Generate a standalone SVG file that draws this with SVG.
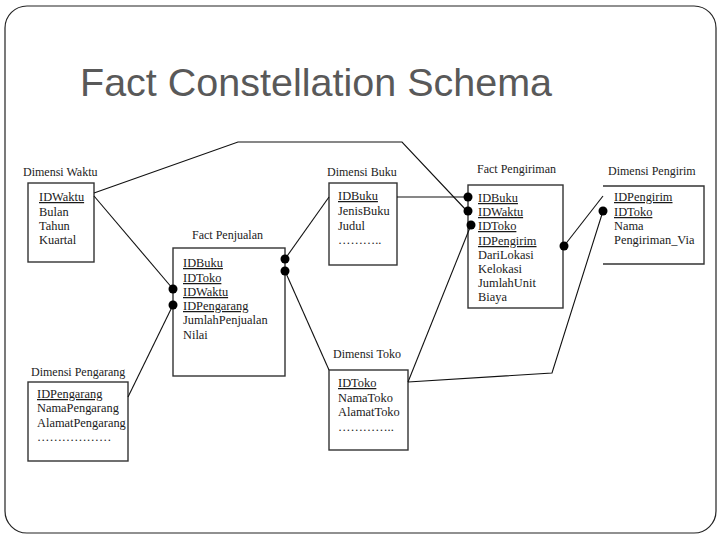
<svg xmlns="http://www.w3.org/2000/svg" width="720" height="540" viewBox="0 0 720 540">
<style>
.frame{fill:#fff;stroke:#222;stroke-width:1.2}
.box{fill:#fff;stroke:#333;stroke-width:1.4}
.lbl{font-family:"Liberation Serif","Times New Roman",serif;font-size:12px;fill:#222}
.it{font-family:"Liberation Serif","Times New Roman",serif;font-size:12.4px;fill:#1a1a1a}
.k{text-decoration:underline}
.ln{fill:none;stroke:#111;stroke-width:1.1}
.dot{fill:#000}
.title{font-family:"Liberation Sans",Arial,sans-serif;font-size:39.5px;fill:#595959}
</style>
<rect width="720" height="540" fill="#fff"/>
<rect class="frame" x="5" y="6" width="711" height="527" rx="22" ry="22"/>
<text class="title" x="80" y="96">Fact Constellation Schema</text>

<g id="dimensi-waktu">
<text class="lbl" x="23" y="176">Dimensi Waktu</text>
<rect class="box" x="28" y="183" width="66" height="79"/>
<text class="it k" x="39" y="201">IDWaktu</text>
<text class="it" x="39" y="216">Bulan</text>
<text class="it" x="39" y="230">Tahun</text>
<text class="it" x="39" y="244">Kuartal</text>
</g>

<g id="fact-penjualan">
<text class="lbl" x="192" y="239">Fact Penjualan</text>
<rect class="box" x="173" y="248" width="112" height="128"/>
<text class="it k" x="183" y="267">IDBuku</text>
<text class="it k" x="183" y="282">IDToko</text>
<text class="it k" x="183" y="296">IDWaktu</text>
<text class="it k" x="183" y="310">IDPengarang</text>
<text class="it" x="183" y="324">JumlahPenjualan</text>
<text class="it" x="183" y="339">Nilai</text>
</g>

<g id="dimensi-buku">
<text class="lbl" x="327" y="176">Dimensi Buku</text>
<rect class="box" x="329" y="183" width="68" height="82"/>
<text class="it k" x="338" y="200">IDBuku</text>
<text class="it" x="338" y="215">JenisBuku</text>
<text class="it" x="338" y="230">Judul</text>
<text class="it" x="338" y="244">………..</text>
</g>

<g id="fact-pengiriman">
<text class="lbl" x="477" y="173">Fact Pengiriman</text>
<rect class="box" x="468" y="185" width="95" height="123"/>
<text class="it k" x="478" y="202">IDBuku</text>
<text class="it k" x="478" y="216">IDWaktu</text>
<text class="it k" x="478" y="230">IDToko</text>
<text class="it k" x="478" y="245">IDPengirim</text>
<text class="it" x="478" y="259">DariLokasi</text>
<text class="it" x="478" y="273">Kelokasi</text>
<text class="it" x="478" y="287">JumlahUnit</text>
<text class="it" x="478" y="301">Biaya</text>
</g>

<g id="dimensi-pengirim">
<text class="lbl" x="608" y="175">Dimensi Pengirim</text>
<path class="box" d="M603,186 H704 V264 H603" fill="none"/>
<text class="it k" x="614" y="201">IDPengirim</text>
<text class="it k" x="614" y="216">IDToko</text>
<text class="it" x="614" y="230">Nama</text>
<text class="it" x="614" y="244">Pengiriman_Via</text>
</g>

<g id="dimensi-pengarang">
<text class="lbl" x="31" y="376">Dimensi Pengarang</text>
<rect class="box" x="28" y="382" width="100" height="79"/>
<text class="it k" x="37" y="398">IDPengarang</text>
<text class="it" x="37" y="412">NamaPengarang</text>
<text class="it" x="37" y="427">AlamatPengarang</text>
<text class="it" x="37" y="441">………………</text>
</g>

<g id="dimensi-toko">
<text class="lbl" x="333" y="358">Dimensi Toko</text>
<rect class="box" x="329" y="370" width="79" height="80"/>
<text class="it k" x="338" y="387">IDToko</text>
<text class="it" x="338" y="402">NamaToko</text>
<text class="it" x="338" y="416">AlamatToko</text>
<text class="it" x="338" y="431">…………..</text>
</g>

<g id="connectors">
<polyline class="ln" points="94,193 238,142 402,142 466,210"/>
<line class="ln" x1="94" y1="196" x2="173" y2="289"/>
<line class="ln" x1="329" y1="197" x2="285" y2="259"/>
<line class="ln" x1="397" y1="197" x2="468" y2="197"/>
<line class="ln" x1="285" y1="271" x2="329" y2="370"/>
<line class="ln" x1="128" y1="397" x2="173" y2="305"/>
<line class="ln" x1="408" y1="382" x2="471" y2="225"/>
<polyline class="ln" points="408,382 552,373 603,211"/>
<line class="ln" x1="564" y1="246" x2="603" y2="196"/>
<circle class="dot" cx="285" cy="259" r="4.5"/>
<circle class="dot" cx="285" cy="271" r="4.5"/>
<circle class="dot" cx="173" cy="289" r="4.5"/>
<circle class="dot" cx="173" cy="305" r="4.5"/>
<circle class="dot" cx="468" cy="197" r="4.5"/>
<circle class="dot" cx="468" cy="211" r="4.5"/>
<circle class="dot" cx="471" cy="225" r="4.5"/>
<circle class="dot" cx="564" cy="246" r="4.5"/>
<circle class="dot" cx="603" cy="211" r="4.5"/>
</g>
</svg>
